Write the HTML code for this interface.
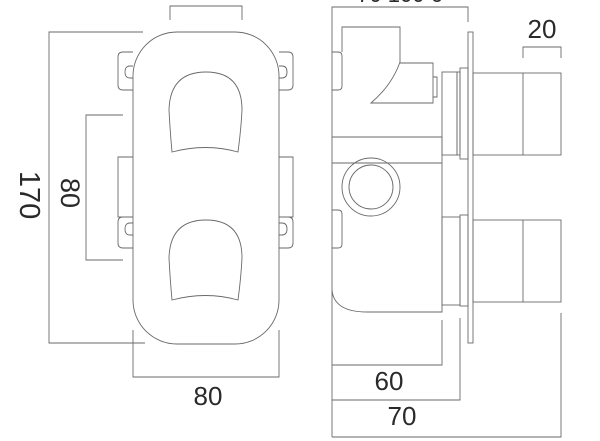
<!DOCTYPE html>
<html><head><style>html,body{margin:0;padding:0;background:#fff}svg{display:block}</style></head>
<body>
<svg width="600" height="441" viewBox="0 0 600 441" xmlns="http://www.w3.org/2000/svg" fill="none" stroke="#6a6a6a" stroke-width="0.9">
<!-- LEFT VIEW -->
<path d="M170 20 V6 H242 V20"/>
<path d="M143 32 H49 V343 H145"/>
<path d="M123 115 H86 V260 H123"/>
<path d="M133 330 V377 H279 V330"/>
<!-- ears -->
<path d="M133 52 H123 Q118 52 118 57 V85 Q118 90 123 90 H133"/>
<path d="M133 66 H130 Q125 66 125 72 Q125 78 130 78 H133"/>
<path d="M279 52 H288 Q293 52 293 57 V85 Q293 90 288 90 H279"/>
<path d="M279 66 H282 Q287 66 287 72 Q287 78 282 78 H279"/>
<path d="M133 157 H118 V217 H133"/>
<path d="M279 157 H293 V217 H279"/>
<path d="M133 217 H123 Q118 217 118 222 V243 Q118 248 123 248 H133"/>
<path d="M133 223 H130 Q125 223 125 229 Q125 235 130 235 H133"/>
<path d="M279 217 H288 Q293 217 293 222 V243 Q293 248 288 248 H279"/>
<path d="M279 223 H282 Q287 223 287 229 Q287 235 282 235 H279"/>
<rect x="133" y="32" width="146" height="312" rx="44" ry="44" fill="#fff"/>
<!-- handles -->
<path d="M172 152 Q170 130 169 110 Q170 72 206 72 Q242 72 242 110 Q241 130 238 152 Q206 143 172 152 Z"/>
<path d="M172 300 Q170 278 169 258 Q170 220 206 220 Q242 220 242 258 Q241 278 238 300 Q206 291 172 300 Z"/>
<g fill="#2a2a2a" stroke="none" font-family="Liberation Sans, sans-serif" font-size="26">
<text transform="translate(20,195) rotate(90)" text-anchor="middle" font-size="29">170</text>
<text transform="translate(61,193) rotate(90)" text-anchor="middle" font-size="27">80</text>
<text x="208" y="405" text-anchor="middle">80</text>
<text x="542" y="38" text-anchor="middle">20</text>
<text x="389" y="390" text-anchor="middle">60</text>
<text x="402" y="425" text-anchor="middle">70</text>
<text x="400" y="2" text-anchor="middle" font-size="22">70   100   6</text>
</g>
<!-- RIGHT VIEW -->
<path d="M332 437 V7 H468 V22"/>
<path d="M332 290 Q334 312 367 312 H442 V137"/>
<path d="M342 52 V27 H400 V62 Q392 85 371 103 H433 V63 H400"/>
<path d="M433 77 H437 V97 H433"/>
<path d="M332 52 H338 Q342 52 342 56 V86 Q342 90 338 90 H332"/>
<path d="M332 210 H338 Q342 210 342 214 V244 Q342 248 338 248 H332"/>
<path d="M332 137 H442"/>
<path d="M332 163 H442"/>
<circle cx="371" cy="187" r="29"/>
<circle cx="371" cy="187" r="22"/>
<rect x="442" y="72" width="15" height="83"/>
<rect x="457" y="72" width="3" height="83"/>
<rect x="460" y="68" width="8" height="91"/>
<rect x="468" y="32" width="5" height="311"/>
<rect x="473" y="73" width="88" height="82"/>
<path d="M523 73 V155"/>
<rect x="473" y="220" width="88" height="82"/>
<path d="M523 220 V302"/>
<rect x="442" y="217" width="18" height="88"/>
<rect x="460" y="215" width="8" height="91"/>
<path d="M523 58 V47 H561 V58"/>
<path d="M332 365 H442 V320"/>
<path d="M332 400 H460 V318"/>
<path d="M332 437 H561 V313"/>
</svg>
</body></html>
